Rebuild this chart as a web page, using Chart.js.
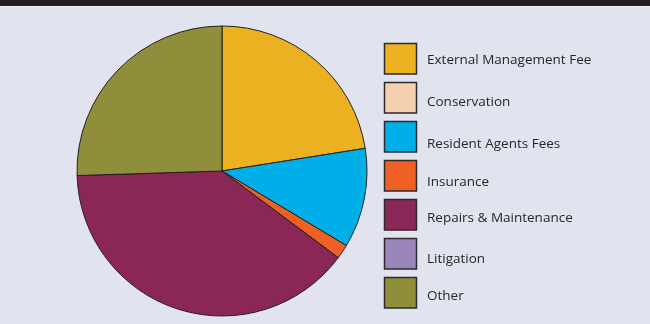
<!DOCTYPE html>
<html lang="en">
<head>
  <meta charset="UTF-8" />
  <title>Expenses</title>
  <script src="https://cdn.jsdelivr.net/npm/chart.js"></script>
  <style>
    html, body { margin: 0; padding: 0; background: #e1e3ef; }
    #topbar { position: absolute; top: 0; left: 0; width: 650px; height: 6px; background: #231f20; border-bottom: 1px solid #f3f3f8; z-index: 2; }
    #chart { position: absolute; top: 0; left: 0; }
  </style>
</head>
<body>
  <canvas id="chart" width="650" height="324"></canvas>
  <div id="topbar"></div>

  <script>
    // data (share of total, %)
    const categories = ['External Management Fee', 'Conservation', 'Resident Agents Fees', 'Insurance',
                        'Repairs & Maintenance', 'Litigation', 'Other'];
    const shares = [22.5, 0, 11.1, 1.6, 39.3, 0, 25.5];
    const sliceColors = ['#ecb120', '#f4d0ae', '#00aee8', '#ee6024', '#8a2756', '#9a86b8', '#8f8e3a'];

    // legend layout (the labels in the original sit a bit unevenly)
    const LEG_X = 384.5, LEG_TOP = 43.5, LEG_STEP = 39, BOX_W = 32, BOX_H = 30.5, TEXT_X = 427;
    const textBaselines = [64, 106, 148, 186, 222, 263, 300];

    const sideLegend = {
      id: 'sideLegend',
      afterDraw(chart) {
        const ctx = chart.ctx;
        ctx.save();
        categories.forEach((name, i) => {
          const y = LEG_TOP + i * LEG_STEP;
          ctx.fillStyle = sliceColors[i];
          ctx.fillRect(LEG_X, y, BOX_W, BOX_H);
          ctx.strokeStyle = '#2e2a2b';
          ctx.lineWidth = 1.5;
          ctx.strokeRect(LEG_X, y, BOX_W, BOX_H);
          ctx.fillStyle = '#262626';
          ctx.font = '13.5px "Open Sans"';
          ctx.textBaseline = 'alphabetic';
          ctx.fillText(name, TEXT_X, textBaselines[i]);
        });
        ctx.restore();
      }
    };

    new Chart(document.getElementById('chart').getContext('2d'), {
      type: 'pie',
      data: {
        labels: categories,
        datasets: [{
          data: shares,
          backgroundColor: sliceColors,
          borderColor: '#231f20',
          borderWidth: 1
        }]
      },
      options: {
        responsive: false,
        animation: false,
        layout: { padding: { left: 76.5, right: 282.5, top: 25.5, bottom: 7.5 } },
        plugins: { legend: { display: false }, tooltip: { enabled: false } }
      },
      plugins: [sideLegend]
    });
  </script>
</body>
</html>
